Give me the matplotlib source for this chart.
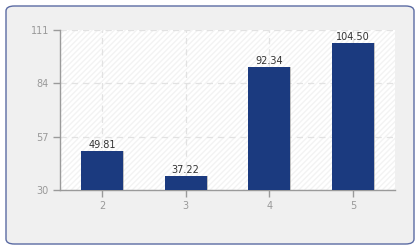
import matplotlib.pyplot as plt
from matplotlib.patches import FancyBboxPatch

# data
categories = [2, 3, 4, 5]
values = [49.81, 37.22, 92.34, 104.50]
y_ticks = [30, 57, 84, 111]

BAR = '#1b3a7f'
GRID = '#e2e2e2'
AXIS = '#9a9a9a'
TICK_TXT = '#999999'

fig = plt.figure(figsize=(4.2, 2.5), dpi=100)
fig.patch.set_facecolor('white')

# rounded outer panel
panel = FancyBboxPatch((6 / 420, 6 / 250), 408 / 420, 238 / 250,
                       boxstyle='round,pad=0,rounding_size=0.02',
                       transform=fig.transFigure, facecolor='#f0f0f0',
                       edgecolor='#5b6ba3', lw=1.0, zorder=-5)
fig.patches.append(panel)

ax = fig.add_axes([60 / 420, 60 / 250, 335 / 420, 160 / 250])
ax.set_zorder(2)
ax.set_facecolor('white')
ax.patch.set_hatch('//////')
ax.patch.set_edgecolor('#f3f3f3')
ax.patch.set_linewidth(0)

# thin shadow to the right of each bar
ax.bar([c + 0.012 for c in categories], values, width=0.5, bottom=0,
       color='#8a8a8a', alpha=0.5, zorder=2)
ax.bar(categories, values, width=0.5, color=BAR, zorder=3)

for c, v in zip(categories, values):
    ax.text(c, v + 0.6, f'{v:.2f}', ha='center', va='bottom',
            fontsize=7, color='#333333', zorder=4)

ax.set_xlim(1.5, 5.5)
ax.set_ylim(30, 111)
ax.set_xticks(categories)
ax.set_yticks(y_ticks)
ax.grid(True, color=GRID, ls=(0, (5, 4)), lw=0.9, zorder=1)
ax.set_axisbelow(True)

for side in ('top', 'right'):
    ax.spines[side].set_visible(False)
for side in ('left', 'bottom'):
    ax.spines[side].set_color(AXIS)
    ax.spines[side].set_linewidth(1.0)

ax.tick_params(axis='both', colors=AXIS, labelcolor=TICK_TXT,
               labelsize=7, length=5, width=1, direction='out')
ax.tick_params(axis='y', pad=3)
ax.tick_params(axis='x', pad=3)

fig.savefig('out.png', dpi=100)
